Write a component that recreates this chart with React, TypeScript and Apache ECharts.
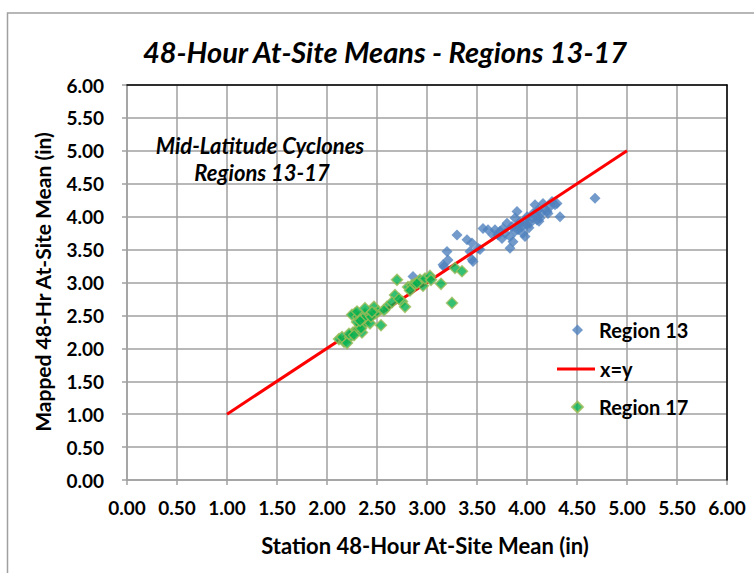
import React, { useEffect, useRef } from "react";
import * as echarts from "echarts";

const xTicks = [0, 0.5, 1, 1.5, 2, 2.5, 3, 3.5, 4, 4.5, 5, 5.5, 6];

const region13X = [
  2.86, 3.16, 3.17, 3.21, 3.2, 3.3, 3.4, 3.45, 3.43, 3.45, 3.46, 3.51, 3.53,
  3.56, 3.61, 3.66, 3.68, 3.71, 3.73, 3.75, 3.78, 3.8, 3.83, 3.83, 3.85, 3.86,
  3.88, 3.9, 3.91, 3.93, 3.95, 3.96, 3.98, 4.0, 4.02, 4.03, 4.05, 4.06, 4.08,
  4.1, 4.11, 4.13, 4.14, 4.16, 4.18, 4.2, 4.21, 4.23, 4.25, 4.28, 4.3, 4.33,
  4.68, 3.88, 4.0, 3.98, 4.12, 3.76, 3.92, 4.08,
];
const region13Y = [
  3.09, 3.27, 3.24, 3.34, 3.47, 3.72, 3.65, 3.6, 3.47, 3.35, 3.32, 3.52, 3.5,
  3.82, 3.8, 3.72, 3.8, 3.72, 3.78, 3.67, 3.75, 3.9, 3.52, 3.7, 3.85, 3.62,
  3.78, 4.08, 3.8, 3.92, 3.85, 3.75, 3.95, 4.0, 3.83, 3.9, 3.98, 4.05, 4.18,
  3.95, 4.1, 3.98, 4.05, 4.2, 4.12, 4.08, 4.05, 4.15, 4.23, 4.18, 4.2, 4.0,
  4.28, 3.98, 3.88, 3.7, 3.93, 3.82, 3.86, 4.02,
];

const lineX = [1, 5];
const lineY = [1, 5];

const region17X = [
  2.12, 2.17, 2.15, 2.23, 2.26, 2.3, 2.35, 2.33, 2.38, 2.28, 2.25, 2.31, 2.38,
  2.4, 2.43, 2.47, 2.51, 2.48, 2.54, 2.6, 2.68, 2.7, 2.75, 2.78, 2.81, 2.85,
  2.88, 2.93, 2.96, 2.98, 3.03, 3.04, 3.14, 3.25, 3.28, 3.35, 2.3, 2.38, 2.3,
  2.2, 2.22, 2.27, 2.34, 2.36, 2.44, 2.33, 2.45, 2.57, 2.65, 2.72, 2.9, 2.83,
];
const region17Y = [
  2.14, 2.1, 2.17, 2.17, 2.24, 2.28, 2.24, 2.35, 2.38, 2.53, 2.51, 2.48, 2.53,
  2.46, 2.38, 2.63, 2.56, 2.53, 2.35, 2.63, 2.81, 3.04, 2.71, 2.63, 2.93, 2.96,
  2.98, 3.04, 2.95, 3.06, 3.1, 3.04, 2.98, 2.69, 3.22, 3.17, 2.56, 2.61, 2.4,
  2.08, 2.22, 2.2, 2.3, 2.45, 2.48, 2.42, 2.55, 2.58, 2.7, 2.75, 2.99, 2.88,
];

const FONT = "Lato, 'Open Sans', sans-serif";
const GRID_GRAY = "#a0a0a0";

export default function App() {
  const ref = useRef<HTMLDivElement>(null);

  useEffect(() => {
    if (!ref.current) return;
    const chart = echarts.init(ref.current, undefined, { renderer: "svg" });
    const fmt = (v: number) => v.toFixed(2);
    const axisCommon = {
      type: "value",
      min: xTicks[0],
      max: xTicks[xTicks.length - 1],
      interval: 0.5,
    };
    const legendText = {
      fontFamily: FONT,
      fontWeight: "bold",
      fontSize: 20,
      lineHeight: 20,
      color: "#000",
    };
    chart.setOption({
      animation: false,
      backgroundColor: "#fff",
      grid: { left: 127, top: 85, width: 600, height: 395, show: false },
      xAxis: [
        {
          ...axisCommon,
          position: "bottom",
          axisLine: { show: true, lineStyle: { color: GRID_GRAY, width: 1.5 } },
          axisTick: { show: true, inside: false, length: 5, lineStyle: { color: GRID_GRAY, width: 1.5 } },
          axisLabel: {
            formatter: fmt,
            margin: 18,
            fontFamily: FONT,
            fontWeight: "bold",
            fontSize: 19,
            color: "#000",
          },
          splitLine: { show: true, lineStyle: { color: GRID_GRAY, width: 1.5 } },
        },
        {
          ...axisCommon,
          position: "top",
          z: 5,
          axisLine: { show: true, onZero: false, lineStyle: { color: "#000", width: 1.5 } },
          axisTick: { show: false },
          axisLabel: { show: false },
          splitLine: { show: false },
        },
      ],
      yAxis: [
        {
          ...axisCommon,
          position: "left",
          axisLine: { show: true, lineStyle: { color: GRID_GRAY, width: 1.5 } },
          axisTick: { show: true, inside: false, length: 5, lineStyle: { color: GRID_GRAY, width: 1.5 } },
          axisLabel: {
            formatter: fmt,
            margin: 23,
            fontFamily: FONT,
            fontWeight: "bold",
            fontSize: 19,
            color: "#000",
          },
          splitLine: { show: true, lineStyle: { color: GRID_GRAY, width: 1.5 } },
        },
        {
          ...axisCommon,
          position: "right",
          z: 5,
          axisLine: { show: true, onZero: false, lineStyle: { color: "#000", width: 1.5 } },
          axisTick: { show: false },
          axisLabel: { show: false },
          splitLine: { show: false },
        },
      ],
      legend: [
        {
          orient: "vertical",
          left: 566,
          top: 315,
          itemWidth: 11,
          itemHeight: 11,
          itemGap: 57,
          textStyle: { ...legendText, padding: [0, 0, 0, 11] },
          data: [
            { name: "Region 13", icon: "diamond" },
            { name: "Region 17", icon: "diamond" },
          ],
        },
        {
          orient: "vertical",
          left: 552,
          top: 354,
          itemWidth: 38,
          itemHeight: 3,
          textStyle: { ...legendText, padding: [0, 0, 0, 0] },
          data: [{ name: "x=y", icon: "rect" }],
        },
      ],
      series: [
        {
          name: "Region 13",
          type: "scatter",
          symbol: "diamond",
          symbolSize: 11,
          itemStyle: { color: "#4f81bd" },
          data: region13X.map((x, i) => [x, region13Y[i]]),
          z: 2,
        },
        {
          name: "x=y",
          type: "line",
          symbol: "none",
          lineStyle: { color: "#ff0000", width: 3 },
          itemStyle: { color: "#ff0000" },
          data: lineX.map((x, i) => [x, lineY[i]]),
          z: 3,
        },
        {
          name: "Region 17",
          type: "scatter",
          symbol: "diamond",
          symbolSize: 11,
          itemStyle: { color: "#00b050", borderColor: "#9bbb59", borderWidth: 1.5 },
          data: region17X.map((x, i) => [x, region17Y[i]]),
          z: 4,
        },
      ],
      graphic: [
        {
          type: "rect",
          silent: true,
          z: -1,
          shape: { x: 7.5, y: 13, width: 800, height: 600 },
          style: { fill: "none", stroke: GRID_GRAY, lineWidth: 1.5 },
        },
        {
          type: "text",
          x: 385,
          y: 51,
          style: {
            text: "48-Hour At-Site Means - Regions 13-17",
            fontFamily: FONT,
            fontWeight: "bold",
            fontStyle: "italic",
            fontSize: 29,
            fill: "#000",
            textAlign: "center",
            textVerticalAlign: "middle",
          },
        },
        {
          type: "text",
          x: 260,
          y: 145,
          z: 10,
          style: {
            text: "Mid-Latitude Cyclones",
            fontFamily: FONT,
            fontWeight: "bold",
            fontStyle: "italic",
            fontSize: 22,
            fill: "#000",
            textAlign: "center",
            textVerticalAlign: "middle",
          },
        },
        {
          type: "text",
          x: 262,
          y: 172,
          z: 10,
          style: {
            text: "Regions 13-17",
            fontFamily: FONT,
            fontWeight: "bold",
            fontStyle: "italic",
            fontSize: 22,
            fill: "#000",
            textAlign: "center",
            textVerticalAlign: "middle",
          },
        },
        {
          type: "text",
          x: 425,
          y: 545,
          style: {
            text: "Station 48-Hour At-Site Mean (in)",
            fontFamily: FONT,
            fontWeight: "bold",
            fontSize: 22,
            fill: "#000",
            textAlign: "center",
            textVerticalAlign: "middle",
          },
        },
        {
          type: "text",
          x: 42,
          y: 282,
          rotation: Math.PI / 2,
          style: {
            text: "Mapped 48-Hr At-Site Mean (in)",
            fontFamily: FONT,
            fontWeight: "bold",
            fontSize: 21,
            fill: "#000",
            textAlign: "center",
            textVerticalAlign: "middle",
          },
        },
      ],
    });
    return () => chart.dispose();
  }, []);

  return (
    <div
      ref={ref}
      style={{ position: "absolute", left: 0, top: 0, width: 754, height: 573 }}
    />
  );
}
